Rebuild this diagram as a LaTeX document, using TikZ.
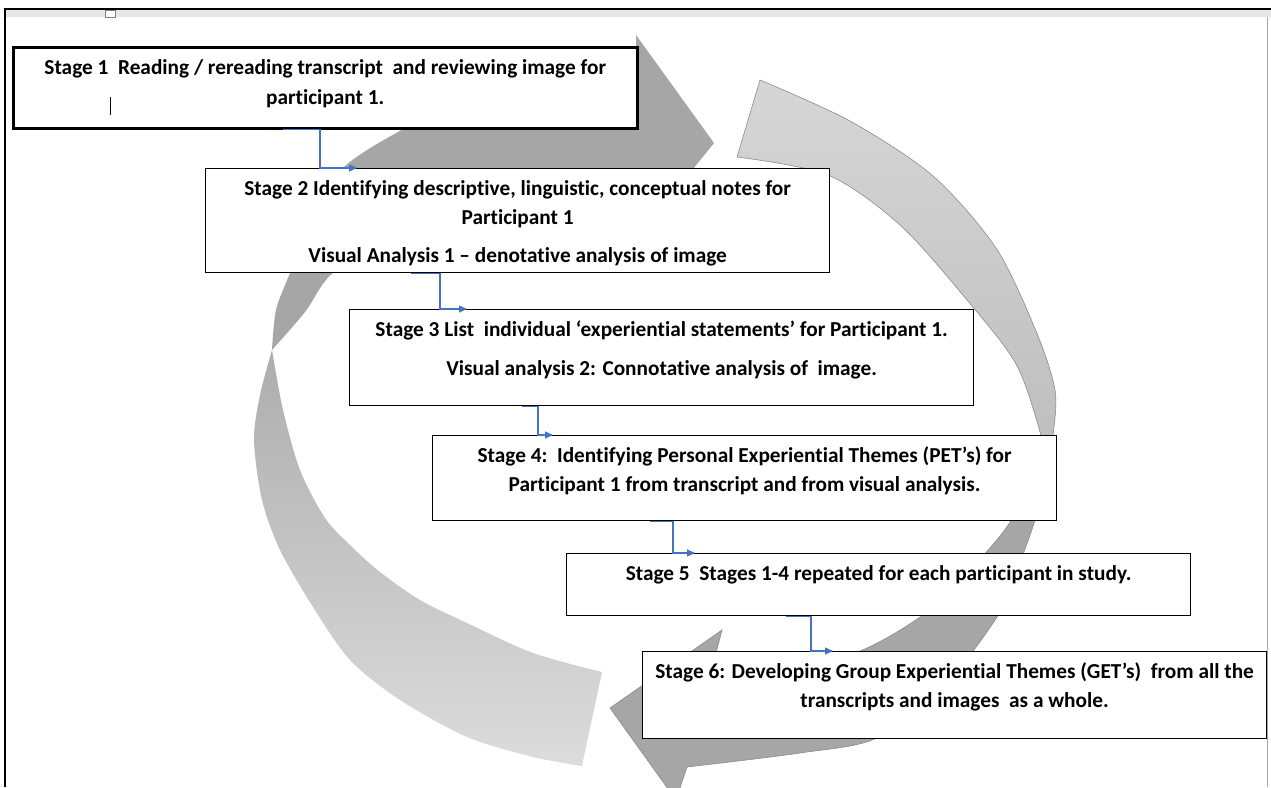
\documentclass[tikz,border=0pt]{standalone}
\usepackage{fontspec}
\setmainfont{Carlito}[Ligatures=NoCommon]
\usetikzlibrary{arrows.meta}

\definecolor{ringdark}{HTML}{A6A6A6}
\definecolor{ringedge}{HTML}{8C8C8C}
\definecolor{ringtop}{HTML}{D6D6D6}
\definecolor{ringside}{HTML}{BDBDBD}
\definecolor{ringlow}{HTML}{DCDCDC}
\definecolor{ringmid}{HTML}{ADADAD}
\definecolor{linkblue}{HTML}{4472C4}
\definecolor{rulergray}{HTML}{E6E6E6}

\newcommand\stagetext[2]{\parbox[t][#1][t]{624pt}{\centering\vspace*{7pt}\strut#2}}

\begin{document}
\begin{tikzpicture}[x=1pt,y=-1pt,
    stage/.style={draw=black,fill=white,line width=1.2pt,inner sep=0pt,
      anchor=north west,font=\fontsize{21.3}{28.5}\selectfont\bfseries},
    link/.style={draw=linkblue,line width=1.1pt,
      -{Triangle[length=8pt,width=7pt]}}]
\useasboundingbox (0,0) rectangle (1271,787);

% page edge
\fill[rulergray] (5,9) rectangle (1271,17);
\draw[gray!70,line width=0.8pt] (1267.5,17) -- (1267.5,787);
\draw[line width=2.5pt] (5,787) -- (5,9) -- (1271,9);
\draw[gray,fill=white,line width=0.6pt] (105,10) rectangle (115,17);

% left ring, light tail then dark head
\shade[top color=ringmid,bottom color=ringlow]
  plot[smooth] coordinates {(582,766) (533,757) (467,737) (400,700) (350,660)
    (313,607) (280,550) (262,500) (254,440) (260,395) (272,350)}
  -- plot[smooth] coordinates {(272,350) (283,410) (300,470) (325,518) (350,545)
    (380,572) (420,600) (467,623) (533,653) (602,672)}
  -- cycle;
\fill[ringdark]
  plot[smooth] coordinates {(272,350) (276,310) (290,273) (310,225) (343,168)
    (407,127) (474,95) (556,74) (636,70)}
  -- (636,35) -- (714,143) -- (640,235) -- (640,195)
  -- plot[smooth] coordinates {(640,195) (560,200) (470,220) (390,248) (333,273)
    (305,312) (272,350)}
  -- cycle;

% right ring
\shade[top color=ringtop,bottom color=ringside,draw=ringedge,line width=0.6pt]
  plot[smooth] coordinates {(760,80) (850,121) (933,176) (996,248) (1036,331)
    (1055,390) (1053,435) (1046,468)}
  -- plot[smooth] coordinates {(1046,468) (1040,432) (1016,364) (967,300)
    (900,225) (828,175) (737,157)}
  -- cycle;
\fill[ringdark,draw=ringedge,line width=0.6pt]
  plot[smooth] coordinates {(1046,468) (1035,520) (1015,575) (997,617) (945,685)
    (877,738) (800,753) (687,767)}
  -- (676,800) -- (610,708) -- (722,630) -- (709,680)
  -- plot[smooth] coordinates {(709,680) (790,668) (860,651) (920,617) (965,575)
    (1000,536) (1025,500) (1046,468)}
  -- cycle;

% stages
\node[stage,line width=2.5pt] (s1) at (12,46) {\stagetext{81pt}{Stage 1\ \ Reading
  / rereading transcript\ \ and reviewing image for\\[1.5pt]participant 1.}};
\node[stage] (s2) at (205,168) {\stagetext{104pt}{Stage 2 Identifying descriptive,
  linguistic, conceptual notes for\\Participant 1\\[9.5pt]Visual Analysis 1 –
  denotative analysis of image}};
\node[stage] (s3) at (349,309) {\stagetext{96pt}{Stage 3 List\ \ individual
  ‘experiential statements’ for Participant 1.\\[10.5pt]Visual analysis 2:
  Connotative analysis of\ \ image.}};
\node[stage] (s4) at (432,435) {\stagetext{85pt}{Stage 4:\ \ Identifying Personal
  Experiential Themes (PET’s) for\\Participant 1 from transcript and from visual
  analysis.}};
\node[stage] (s5) at (566,553) {\stagetext{62pt}{Stage 5\ \ Stages 1-4 repeated
  for each participant in study.}};
\node[stage] (s6) at (642,651) {\stagetext{87pt}{Stage 6: Developing Group
  Experiential Themes (GET’s)\ \ from all the\\transcripts and images\ \ as a
  whole.}};

% text cursor in stage 1
\draw[line width=0.8pt] (110.5,97) -- (110.5,115);

% elbow links
\draw[link] ([xshift=271pt]s1.south west) -- ([xshift=308pt]s1.south west)
  |- ([xshift=152pt]s2.north west);
\draw[link] ([xshift=206pt]s2.south west) -- ([xshift=235pt]s2.south west)
  |- ([xshift=118pt]s3.north west);
\draw[link] ([xshift=173pt]s3.south west) -- ([xshift=189pt]s3.south west)
  |- ([xshift=121pt]s4.north west);
\draw[link] ([xshift=218pt]s4.south west) -- ([xshift=241pt]s4.south west)
  |- ([xshift=129pt]s5.north west);
\draw[link] ([xshift=220pt]s5.south west) -- ([xshift=245pt]s5.south west)
  |- ([xshift=191pt]s6.north west);
\end{tikzpicture}
\end{document}
